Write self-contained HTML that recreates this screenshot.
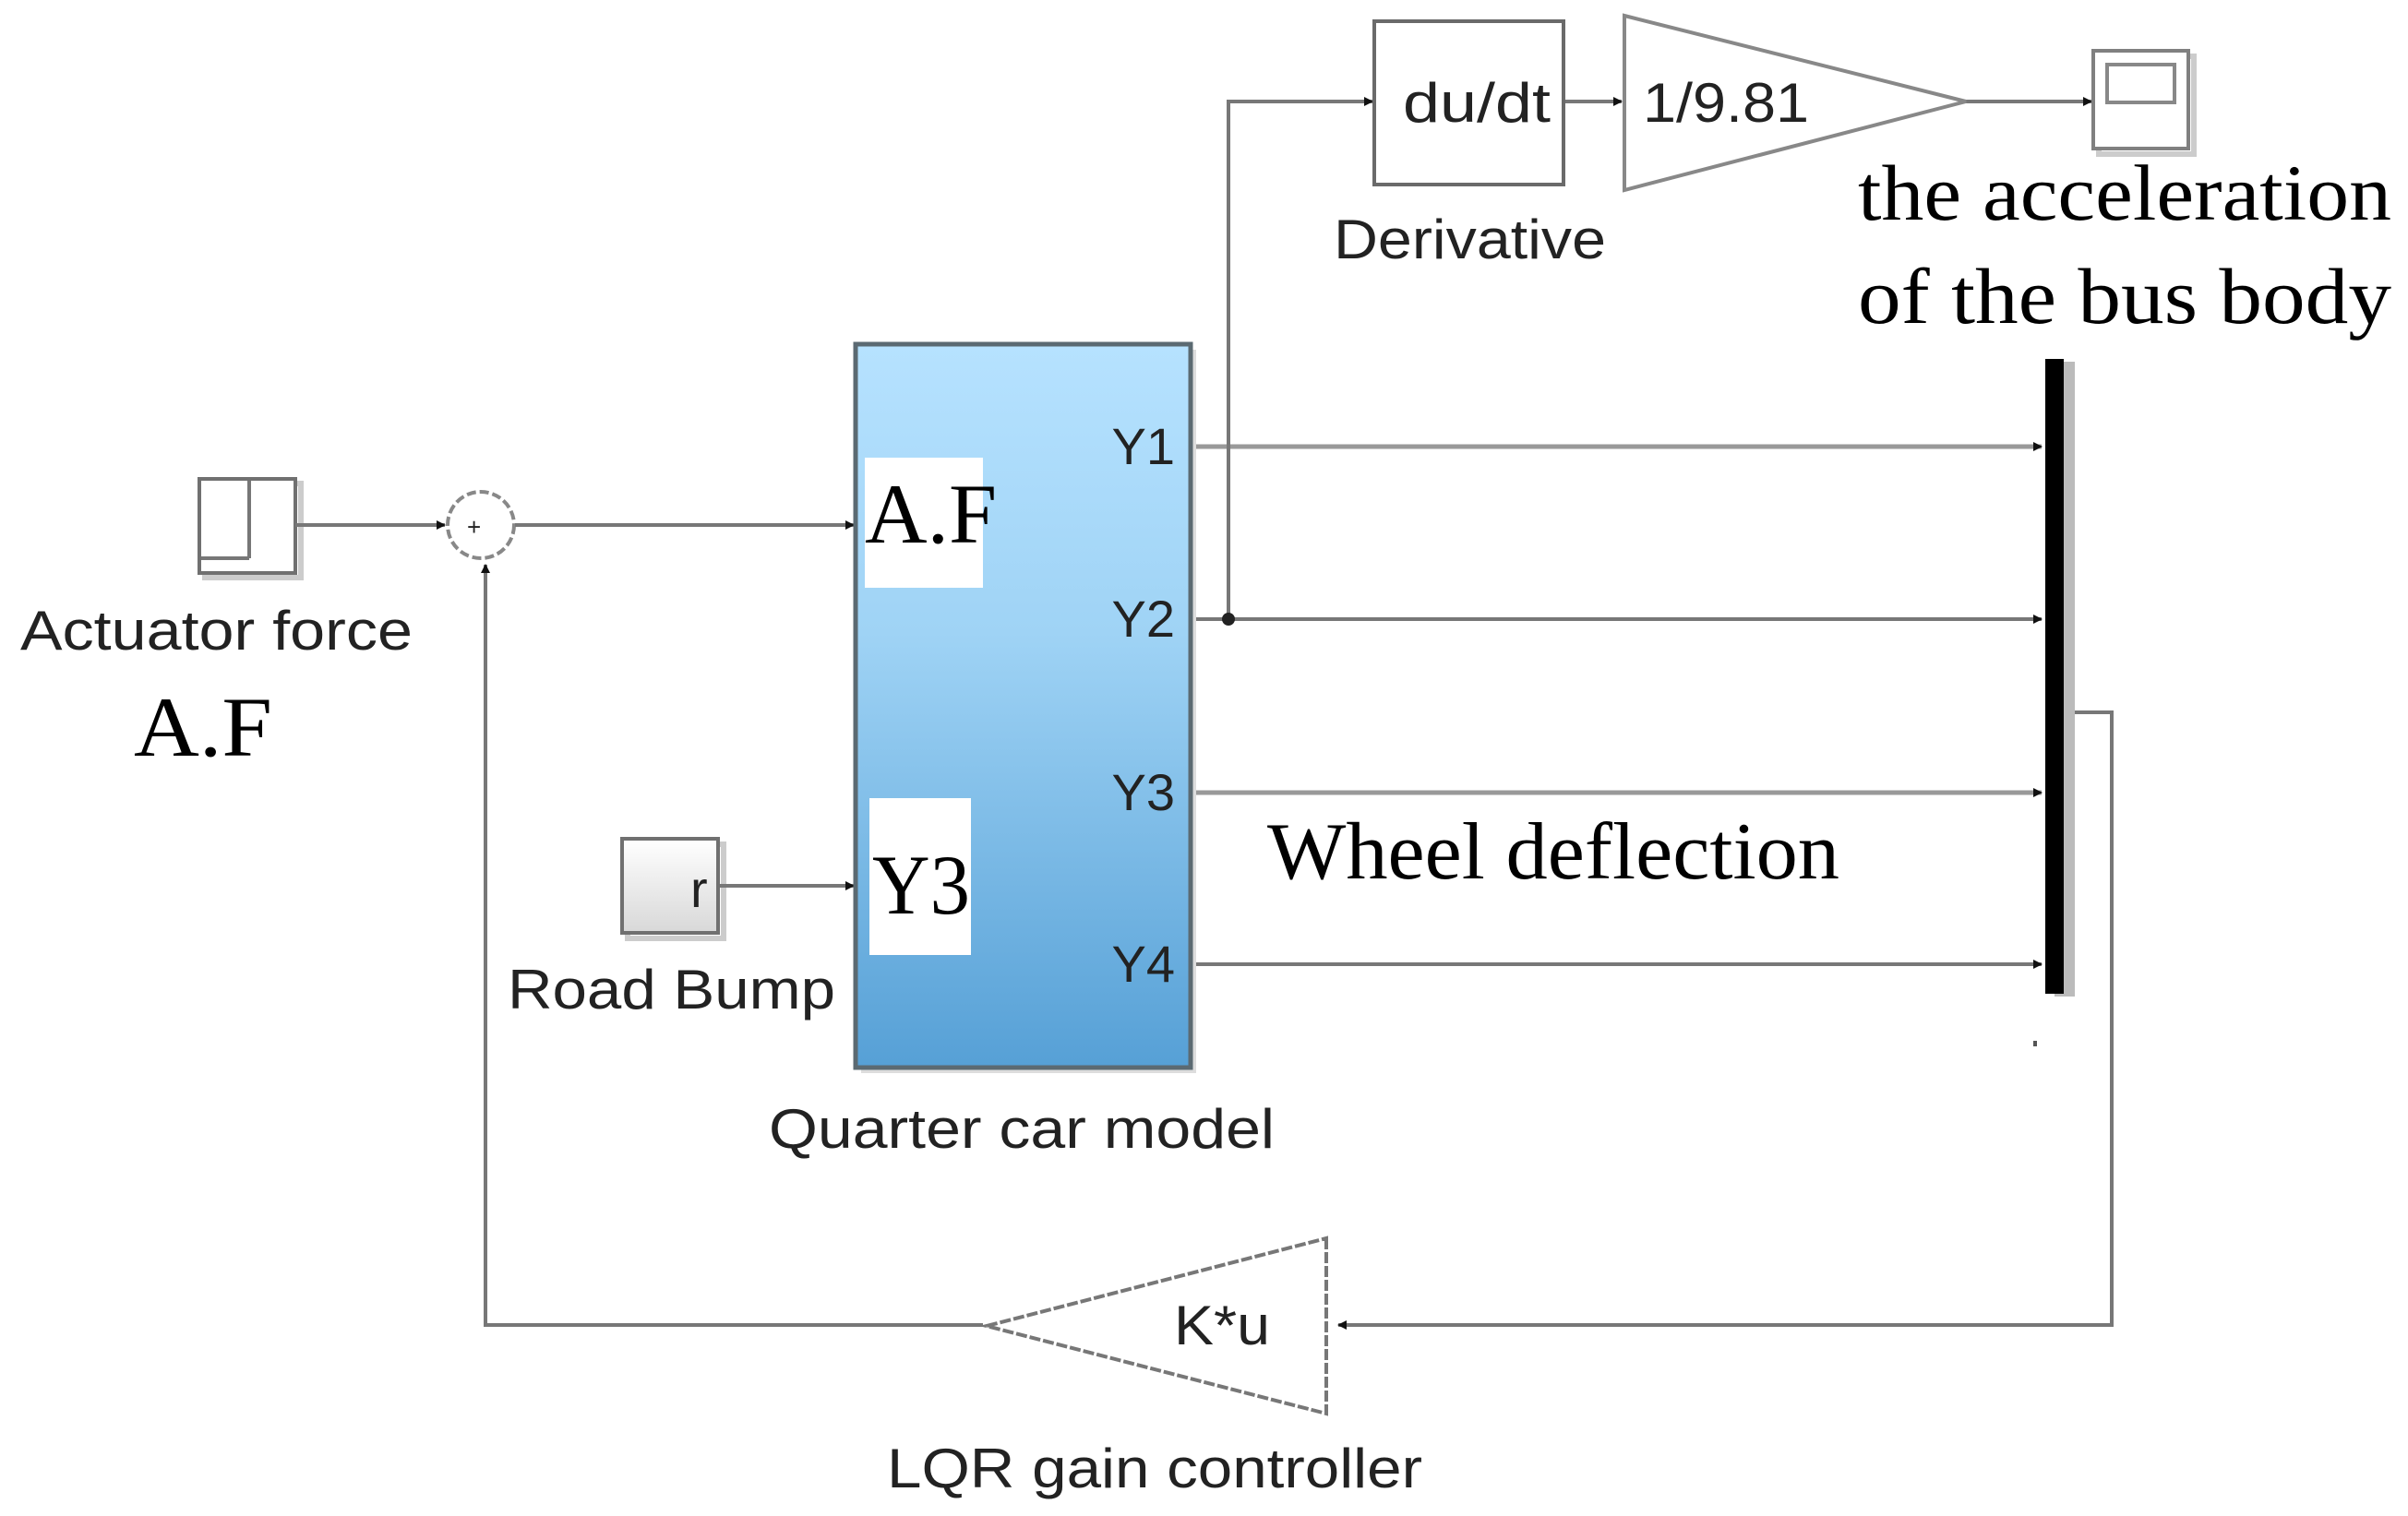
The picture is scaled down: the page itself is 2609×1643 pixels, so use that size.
<!DOCTYPE html>
<html><head><meta charset="utf-8"><style>html,body{margin:0;padding:0;background:#fff}svg{display:block}</style></head>
<body>
<svg width="2609" height="1643" viewBox="0 0 2609 1643" xmlns="http://www.w3.org/2000/svg">
<defs>
<linearGradient id="bg" x1="0" y1="0" x2="0" y2="1">
<stop offset="0" stop-color="#b6e2ff"/><stop offset="0.4" stop-color="#9fd3f5"/><stop offset="1" stop-color="#56a0d6"/>
</linearGradient>
<linearGradient id="rb" x1="0" y1="0" x2="0" y2="1"><stop offset="0" stop-color="#fff"/><stop offset="1" stop-color="#d8d8d8"/></linearGradient>
<marker id="a" markerWidth="10" markerHeight="10" refX="9" refY="5" orient="auto" markerUnits="userSpaceOnUse"><path d="M0,0 L10,5 L0,10 z" fill="#111"/></marker>
</defs>
<g stroke="#777" stroke-width="4" fill="none">
<!-- scope left -->
<rect x="222" y="524" width="104" height="102" stroke="#ccc" stroke-width="6"/>
<rect x="216" y="519" width="104" height="102" fill="#fff" stroke="#707070"/>
<line x1="270" y1="521" x2="270" y2="605"/><line x1="218" y1="605" x2="270" y2="605"/>
<!-- sum -->
<circle cx="521" cy="569" r="36" stroke="#888" stroke-dasharray="10 4"/>
<line x1="320" y1="569" x2="482" y2="569" marker-end="url(#a)"/>
<line x1="558" y1="569" x2="925" y2="569" marker-end="url(#a)"/>
<!-- feedback -->
<polyline points="1065,1436 526,1436 526,612" marker-end="url(#a)"/>
<polyline points="2248,772 2288,772 2288,1436 1450,1436" marker-end="url(#a)"/>
<!-- road bump -->
<rect x="680" y="915" width="104" height="102" stroke="#ccc" stroke-width="6"/>
<rect x="674" y="909" width="104" height="102" fill="url(#rb)" stroke="#707070"/>
<line x1="780" y1="960" x2="925" y2="960" marker-end="url(#a)"/>
<!-- outputs -->
<line x1="1290" y1="484" x2="2212" y2="484" stroke="#999" stroke-width="5" marker-end="url(#a)"/>
<line x1="1290" y1="671" x2="2212" y2="671" marker-end="url(#a)"/>
<line x1="1290" y1="859" x2="2212" y2="859" stroke="#999" stroke-width="5" marker-end="url(#a)"/>
<line x1="1290" y1="1045" x2="2212" y2="1045" marker-end="url(#a)"/>
<polyline points="1331,671 1331,110 1487,110" marker-end="url(#a)"/>
<line x1="1694" y1="110" x2="1757" y2="110" marker-end="url(#a)"/>
<line x1="2130" y1="110" x2="2266" y2="110" marker-end="url(#a)"/>
<!-- du/dt -->
<rect x="1489" y="23" width="205" height="177" fill="#fff" stroke="#6a6a6a"/>
<polygon points="1760,17 2130,110 1760,206" fill="#fff" stroke="#888"/>
<!-- scope right -->
<rect x="2274" y="61" width="103" height="106" stroke="#ccc" stroke-width="6"/>
<rect x="2268" y="55" width="103" height="106" fill="#fff" stroke="#808080"/>
<rect x="2283" y="70" width="73" height="41" stroke="#888"/>
<!-- LQR -->
<polygon points="1437,1342 1437,1532 1069,1437" fill="#fff" stroke="#777" stroke-dasharray="12 3"/>
</g>
<circle cx="1331" cy="671" r="7" fill="#222"/>
<!-- mux -->
<rect x="2226" y="392" width="22" height="688" fill="#bbb"/>
<rect x="2216" y="389" width="20" height="688" fill="#000"/>
<rect x="2203" y="1128" width="4" height="6" fill="#555"/>
<!-- quarter car -->
<rect x="933" y="379" width="363" height="784" fill="#ddd"/>
<rect x="927" y="373" width="363" height="784" fill="url(#bg)" stroke="#5b6a72" stroke-width="5"/>
<rect x="937" y="496" width="128" height="141" fill="#fff"/>
<rect x="942" y="865" width="110" height="170" fill="#fff"/>
<g font-family="Liberation Sans, sans-serif" fill="#222">
<text x="1273" y="503" font-size="56" text-anchor="end">Y1</text>
<text x="1273" y="690" font-size="56" text-anchor="end">Y2</text>
<text x="1273" y="878" font-size="56" text-anchor="end">Y3</text>
<text x="1273" y="1064" font-size="56" text-anchor="end">Y4</text>
<text x="22" y="704" font-size="60" textLength="425" lengthAdjust="spacingAndGlyphs">Actuator force</text>
<text x="550" y="1093" font-size="60" textLength="355" lengthAdjust="spacingAndGlyphs">Road Bump</text>
<text x="833" y="1244" font-size="60" textLength="548" lengthAdjust="spacingAndGlyphs">Quarter car model</text>
<text x="1445" y="280" font-size="60" textLength="295" lengthAdjust="spacingAndGlyphs">Derivative</text>
<text x="961" y="1612" font-size="60" textLength="580" lengthAdjust="spacingAndGlyphs">LQR gain controller</text>
<text x="1520" y="132" font-size="60" textLength="160" lengthAdjust="spacingAndGlyphs">du/dt</text>
<text x="1780" y="132" font-size="60" textLength="180" lengthAdjust="spacingAndGlyphs">1/9.81</text>
<text x="1272" y="1457" font-size="60" textLength="104" lengthAdjust="spacingAndGlyphs">K*u</text>
<text x="748" y="983" font-size="56">r</text>
<text x="506" y="580" font-size="26">+</text>
</g>
<g font-family="Liberation Serif, serif" fill="#000">
<text x="145" y="819" font-size="92" textLength="150" lengthAdjust="spacingAndGlyphs">A.F</text>
<text x="937" y="588" font-size="92" textLength="143" lengthAdjust="spacingAndGlyphs">A.F</text>
<text x="945" y="990" font-size="92" textLength="106" lengthAdjust="spacingAndGlyphs">Y3</text>
<text x="1373" y="952" font-size="88" textLength="620" lengthAdjust="spacingAndGlyphs">Wheel deflection</text>
<text x="2013" y="238" font-size="86" textLength="578" lengthAdjust="spacingAndGlyphs">the acceleration</text>
<text x="2013" y="350" font-size="86" textLength="578" lengthAdjust="spacingAndGlyphs">of the bus body</text>
</g>
</svg>
</body></html>
